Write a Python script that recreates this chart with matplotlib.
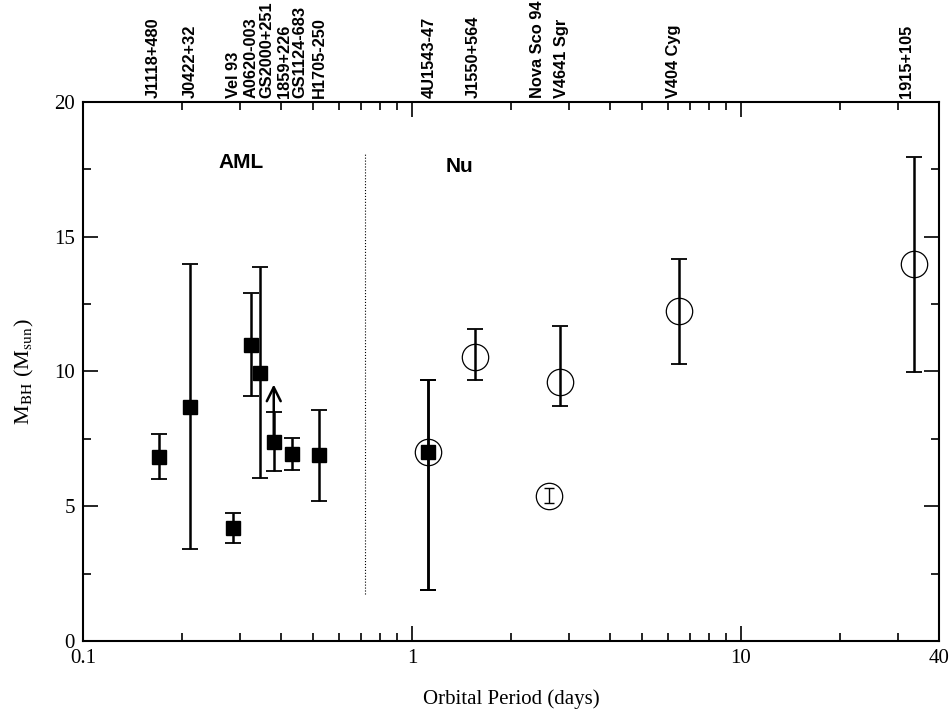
import matplotlib
matplotlib.use("Agg")
import matplotlib.pyplot as plt
import matplotlib.ticker as ticker
import numpy as np

plt.rcParams["font.family"] = "Liberation Serif"
plt.rcParams["mathtext.fontset"] = "stix"

# AML systems (filled squares): period (d), mass, lower and upper error bar ends
aml_names = ["J1118+480", "J0422+32", "Vel 93", "A0620-003", "GS2000+251",
             "1859+226", "GS1124-683", "H1705-250", "4U1543-47"]
aml_period = [0.170, 0.212, 0.285, 0.323, 0.344, 0.380, 0.433, 0.521, 1.116]
aml_mass = [6.84, 8.69, 4.19, 10.98, 9.96, 7.40, 6.95, 6.90, 7.00]
aml_lo = [6.00, 3.41, 3.65, 9.09, 6.04, 6.30, 6.35, 5.19, 1.90]
aml_hi = [7.69, 14.00, 4.75, 12.90, 13.89, 8.48, 7.55, 8.58, 9.68]

# nuclear systems (open circles)
nu_names = ["4U1543-47", "J1550+564", "V4641 Sgr", "V404 Cyg", "1915+105"]
nu_period = [1.116, 1.554, 2.818, 6.48, 33.5]
nu_mass = [7.00, 10.55, 9.61, 12.23, 13.98]
nu_lo = [1.90, 9.67, 8.72, 10.28, 9.98]
nu_hi = [9.68, 11.57, 11.68, 14.17, 17.96]

# Nova Sco 94 has a small error bar drawn thin
nsco_period = 2.615
nsco_mass = 5.39
nsco_lo = 5.11
nsco_hi = 5.69

# lower limit arrow for 1859+226
limit_period = 0.380
limit_from = 7.40
limit_to = 9.62

# divider between the two groups
divider_period = 0.721
divider_range = [1.73, 18.06]

# source names along the top and where they sit
top_names = ["J1118+480", "J0422+32", "Vel 93", "A0620-003", "GS2000+251",
             "1859+226", "GS1124-683", "H1705-250", "4U1543-47", "J1550+564",
             "Nova Sco 94", "V4641 Sgr", "V404 Cyg", "1915+105"]
top_pos = [0.163, 0.2114, 0.2877, 0.3234, 0.3634, 0.4111, 0.4565, 0.5228,
           1.127, 1.533, 2.415, 2.857, 6.24, 31.96]

fig = plt.figure(figsize=(9.51, 7.13), dpi=100)
ax = fig.add_axes([0.0873, 0.101, 0.9001, 0.756])

aml_m = np.array(aml_mass)
ax.errorbar(aml_period, aml_mass,
            yerr=[aml_m - np.array(aml_lo), np.array(aml_hi) - aml_m],
            fmt="s", color="k", mec="k", ms=10.5, capsize=5.5,
            elinewidth=1.8, capthick=1.3, zorder=3)

nu_m = np.array(nu_mass)
ax.errorbar(nu_period, nu_mass,
            yerr=[nu_m - np.array(nu_lo), np.array(nu_hi) - nu_m],
            fmt="o", color="k", mfc="none", mec="k", ms=19,
            capsize=5.5, elinewidth=1.8, capthick=1.3, zorder=2)

ax.errorbar([nsco_period], [nsco_mass],
            yerr=[[nsco_mass - nsco_lo], [nsco_hi - nsco_mass]],
            fmt="o", color="k", mfc="none", mec="k", ms=19,
            capsize=3.5, elinewidth=1.0, capthick=1.0, zorder=2)
# thin outline for the circles
for line in ax.lines:
    if line.get_marker() == "o":
        line.set_markeredgewidth(0.9)

ax.annotate("", xy=(limit_period, limit_to), xytext=(limit_period, limit_from),
            arrowprops=dict(arrowstyle="->", lw=1.8, color="k", mutation_scale=25))

ax.plot([divider_period, divider_period], divider_range, ":", color="k", lw=0.8)

ax.text(0.302, 17.74, "AML", family="Liberation Sans", fontweight="bold",
        fontsize=15, ha="center", va="center")
ax.text(1.399, 17.59, "Nu", family="Liberation Sans", fontweight="bold",
        fontsize=15, ha="center", va="center")

for name, x in zip(top_names, top_pos):
    ax.annotate(name, xy=(x, 1.0), xycoords=("data", "axes fraction"),
                xytext=(0, 3), textcoords="offset points", rotation=90,
                ha="center", va="bottom", family="Liberation Sans",
                fontweight="bold", fontsize=11.8)

ax.set_xscale("log")
ax.set_xlim(0.1, 40)
ax.set_ylim(0, 20)
ax.xaxis.set_major_locator(ticker.FixedLocator([0.1, 1, 10, 40]))
ax.xaxis.set_major_formatter(ticker.FixedFormatter(["0.1", "1", "10", "40"]))
ax.xaxis.set_minor_locator(ticker.LogLocator(subs=np.arange(2, 10)))
ax.xaxis.set_minor_formatter(ticker.NullFormatter())
ax.yaxis.set_major_locator(ticker.MultipleLocator(5))
ax.yaxis.set_minor_locator(ticker.MultipleLocator(2.5))

ax.tick_params(which="both", direction="in", top=True, right=True, width=1.2)
ax.tick_params(which="major", length=11, labelsize=15, pad=6)
ax.tick_params(which="minor", length=5.5)
for s in ax.spines.values():
    s.set_linewidth(1.5)

ax.set_xlabel("Orbital Period (days)", fontsize=15, labelpad=15)
ax.set_ylabel(r"M$_{\rm BH}$ (M$_{\rm sun}$)", fontsize=16, labelpad=13)

fig.savefig("out.png", dpi=100)
